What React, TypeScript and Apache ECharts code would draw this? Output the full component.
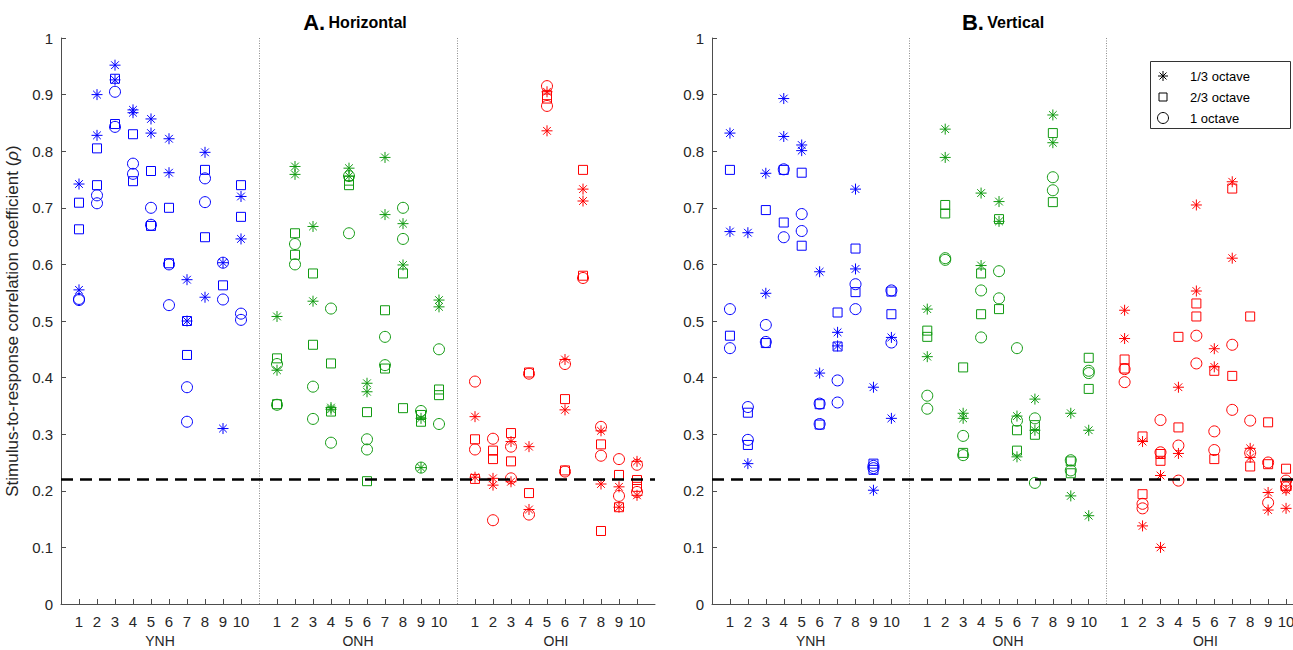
import React, { useEffect, useRef } from "react";
import * as echarts from "echarts";

// ---------- data (correlation values per subject, two per marker type) ----------
const GROUPS = ["YNH", "ONH", "OHI"];
const THRESH_H = 0.223;
const THRESH_V = 0.219;

// Panel A: Horizontal
const hYNHStar = [[0.742, 0.555], [0.900, 0.828], [0.952, 0.926], [0.873, 0.868], [0.857, 0.832], [0.822, 0.762], [0.573, 0.500], [0.798, 0.542], [0.603, 0.310], [0.720, 0.645]];
const hYNHSquare = [[0.709, 0.662], [0.805, 0.740], [0.928, 0.848], [0.830, 0.747], [0.765, 0.668], [0.700, 0.602], [0.500, 0.440], [0.767, 0.648], [0.563], [0.740, 0.684]];
const hYNHCircle = [[0.539, 0.537], [0.722, 0.708], [0.905, 0.843], [0.778, 0.760], [0.700, 0.670], [0.600, 0.528], [0.383, 0.322], [0.752, 0.710], [0.603, 0.538], [0.513, 0.502]];

const hONHStar = [[0.508, 0.413], [0.773, 0.759], [0.667, 0.535], [0.347, 0.344], [0.770, 0.756], [0.390, 0.375], [0.789, 0.688], [0.672, 0.599], [0.328, 0.241], [0.537, 0.525]];
const hONHSquare = [[0.434, 0.353], [0.655, 0.617], [0.584, 0.458], [0.425, 0.340], [0.748, 0.740], [0.339, 0.217], [0.519, 0.416], [0.584, 0.346], [0.334, 0.322], [0.379, 0.369]];
const hONHCircle = [[0.424, 0.352], [0.636, 0.600], [0.384, 0.327], [0.522, 0.285], [0.756, 0.655], [0.291, 0.273], [0.472, 0.422], [0.700, 0.645], [0.341, 0.241], [0.450, 0.318]];

const hOHIStar = [[0.331, 0.224], [0.222, 0.210], [0.287, 0.216], [0.278, 0.167], [0.905, 0.836], [0.432, 0.343], [0.733, 0.712], [0.306, 0.212], [0.207, 0.171], [0.252, 0.192]];
const hOHISquare = [[0.291, 0.221], [0.271, 0.256], [0.302, 0.252], [0.409, 0.196], [0.899, 0.893], [0.362, 0.236], [0.767, 0.580], [0.282, 0.129], [0.228, 0.171], [0.219, 0.207]];
const hOHICircle = [[0.393, 0.273], [0.292, 0.148], [0.278, 0.222], [0.407, 0.158], [0.915, 0.880], [0.424, 0.234], [0.576], [0.313, 0.262], [0.256, 0.191], [0.246, 0.198]];

// Panel B: Vertical
const vYNHStar = [[0.832, 0.658], [0.656, 0.248], [0.761, 0.549], [0.893, 0.826], [0.811, 0.801], [0.587, 0.408], [0.480, 0.456], [0.733, 0.592], [0.383, 0.201], [0.471, 0.328]];
const vYNHSquare = [[0.767, 0.474], [0.338, 0.281], [0.696, 0.461], [0.767, 0.674], [0.762, 0.633], [0.353, 0.317], [0.515, 0.455], [0.628, 0.551], [0.248, 0.237], [0.552, 0.512]];
const vYNHCircle = [[0.521, 0.452], [0.348, 0.290], [0.493, 0.463], [0.768, 0.648], [0.689, 0.659], [0.354, 0.318], [0.395, 0.356], [0.565, 0.521], [0.244, 0.240], [0.554, 0.462]];

const vONHStar = [[0.521, 0.437], [0.839, 0.789], [0.337, 0.328], [0.726, 0.598], [0.711, 0.676], [0.332, 0.260], [0.362, 0.307], [0.864, 0.815], [0.337, 0.191], [0.307, 0.156]];
const vONHSquare = [[0.483, 0.472], [0.705, 0.690], [0.418, 0.267], [0.584, 0.512], [0.680, 0.521], [0.307, 0.271], [0.316, 0.299], [0.832, 0.710], [0.252, 0.231], [0.435, 0.380]];
const vONHCircle = [[0.368, 0.345], [0.611, 0.608], [0.297, 0.263], [0.554, 0.471], [0.588, 0.540], [0.452, 0.324], [0.328, 0.214], [0.754, 0.731], [0.254, 0.236], [0.412, 0.408]];

const vOHIStar = [[0.519, 0.469], [0.287, 0.138], [0.227, 0.100], [0.383, 0.266], [0.705, 0.553], [0.451, 0.419], [0.746, 0.611], [0.275, 0.259], [0.197, 0.166], [0.201, 0.169]];
const vOHISquare = [[0.432, 0.416], [0.296, 0.194], [0.265, 0.253], [0.472, 0.312], [0.531, 0.508], [0.412, 0.256], [0.734, 0.403], [0.508, 0.243], [0.321, 0.247], [0.239, 0.209]];
const vOHICircle = [[0.415, 0.392], [0.177, 0.169], [0.325, 0.268], [0.280, 0.218], [0.474, 0.425], [0.305, 0.272], [0.458, 0.343], [0.324, 0.267], [0.250, 0.179], [0.218, 0.206]];

const X_TICKS = [1, 2, 3, 4, 5, 6, 7, 8, 9, 10, 12, 13, 14, 15, 16, 17, 18, 19, 20, 21, 23, 24, 25, 26, 27, 28, 29, 30, 31, 32];
const GROUP_CENTERS = [5.5, 16.5, 27.5];
const DIVIDERS = [11, 22];
const LEGEND_LABELS = ["1/3 octave", "2/3 octave", "1 octave"];

// ---------- styling ----------
const FONT = "'Liberation Sans', Arial, Helvetica, sans-serif";
const TEXT = "#262626";
const AXIS = "#4d4d4d";
const COLORS = ["#0000ff", "#109a10", "#ff0000"];
const STAR_PATH = "path://M5,0L5,10M0,5L10,5M1.5,1.5L8.5,8.5M1.5,8.5L8.5,1.5";

echarts.graphic.registerShape(
  "asteriskMark",
  echarts.graphic.extendPath("M0,-5L0,5M-5,0L5,0M-3.5,-3.5L3.5,3.5M-3.5,3.5L3.5,-3.5", {})
);

function points(subjects: number[][], offset: number) {
  const out: number[][] = [];
  subjects.forEach((vals, i) => vals.forEach((v) => out.push([offset + i + 1, v])));
  return out;
}

function scatter(data: number[][], kind: number, color: string, axis: number) {
  const symbol = kind === 0 ? STAR_PATH : kind === 1 ? "rect" : "circle";
  const size = kind === 0 ? 11 : kind === 1 ? 9 : 11;
  return {
    type: "scatter",
    xAxisIndex: axis * 2,
    yAxisIndex: axis,
    data,
    symbol,
    symbolSize: size,
    itemStyle: { color: "rgba(0,0,0,0)", borderColor: color, borderWidth: 1, opacity: 1 },
    emphasis: { disabled: true },
    silent: true,
    z: 3,
  };
}

function refLines(axis: number, thresh: number) {
  return {
    type: "line",
    xAxisIndex: axis * 2,
    yAxisIndex: axis,
    data: [],
    silent: true,
    z: 2,
    markLine: {
      silent: true,
      symbol: ["none", "none"],
      label: { show: false },
      animation: false,
      data: [
        ...DIVIDERS.map((d) => ({ xAxis: d, lineStyle: { color: "#8c8c8c", type: [1, 1.5], width: 1 } })),
        { yAxis: thresh, lineStyle: { color: "#000", type: [12, 7], width: 2.5 } },
      ],
    },
  };
}

function xAxes(grid: number) {
  return [
    {
      gridIndex: grid,
      type: "value",
      min: 0,
      max: 33,
      position: "bottom",
      axisLine: { show: true, onZero: false, lineStyle: { color: AXIS, width: 1 } },
      axisTick: { show: true, inside: true, length: 5, customValues: X_TICKS, lineStyle: { color: AXIS } },
      axisLabel: {
        customValues: X_TICKS,
        formatter: (v: number) => String(Math.round(v) % 11),
        color: TEXT,
        fontSize: 15,
        fontFamily: FONT,
        margin: 10,
      },
      splitLine: { show: false },
    },
    {
      gridIndex: grid,
      type: "value",
      min: 0,
      max: 33,
      position: "bottom",
      axisLine: { show: false },
      axisTick: { show: false },
      axisLabel: {
        customValues: GROUP_CENTERS,
        formatter: (v: number) => GROUPS[Math.floor(v / 11)],
        color: TEXT,
        fontSize: 14,
        fontFamily: FONT,
        margin: 30,
      },
      splitLine: { show: false },
    },
  ];
}

function yAxis(grid: number, withName: boolean) {
  return {
    gridIndex: grid,
    type: "value",
    min: 0,
    max: 1,
    interval: 0.1,
    axisLine: { show: true, onZero: false, lineStyle: { color: AXIS, width: 1 } },
    axisTick: { show: true, inside: true, length: 5, lineStyle: { color: AXIS } },
    axisLabel: {
      formatter: (v: number) => String(Number(v.toFixed(1))),
      color: TEXT,
      fontSize: 15,
      fontFamily: FONT,
      margin: 8,
    },
    splitLine: { show: false },
    ...(withName
      ? {
          name: "Stimulus-to-response correlation coefficient ({i|ρ})",
          nameLocation: "middle",
          nameGap: 40,
          nameRotate: 90,
          nameTextStyle: {
            color: TEXT,
            fontSize: 17,
            fontFamily: FONT,
            rich: { i: { fontStyle: "italic", fontSize: 17, fontFamily: FONT, color: TEXT } },
          },
        }
      : {}),
  };
}

export default function App() {
  const ref = useRef<HTMLDivElement>(null);

  useEffect(() => {
    if (!ref.current) return;
    const chart = echarts.init(ref.current, undefined, { renderer: "svg" });

    const panels = [
      [[hYNHStar, hYNHSquare, hYNHCircle], [hONHStar, hONHSquare, hONHCircle], [hOHIStar, hOHISquare, hOHICircle]],
      [[vYNHStar, vYNHSquare, vYNHCircle], [vONHStar, vONHSquare, vONHCircle], [vOHIStar, vOHISquare, vOHICircle]],
    ];

    const series: any[] = [refLines(0, THRESH_H), refLines(1, THRESH_V)];
    panels.forEach((groups, p) =>
      groups.forEach((kinds, g) =>
        kinds.forEach((subjects, k) => series.push(scatter(points(subjects, g * 11), k, COLORS[g], p)))
      )
    );

    const titleRich = {
      a: { fontSize: 22, fontWeight: "bold", fontFamily: FONT, color: "#000" },
      b: { fontSize: 16, fontWeight: "bold", fontFamily: FONT, color: "#000" },
    };

    const legendRows = [76, 97, 118];

    chart.setOption({
      animation: false,
      backgroundColor: "#ffffff",
      grid: [
        { left: 61, top: 38, width: 594, height: 566 },
        { left: 712, top: 38, width: 592, height: 566 },
      ],
      xAxis: [...xAxes(0), ...xAxes(1)],
      yAxis: [yAxis(0, true), yAxis(1, false)],
      series,
      graphic: [
        {
          type: "text",
          x: 355,
          y: 22,
          style: { text: "{a|A.} {b|Horizontal}", rich: titleRich, align: "center", verticalAlign: "middle" },
        },
        {
          type: "text",
          x: 1003,
          y: 22,
          style: { text: "{a|B.} {b|Vertical}", rich: titleRich, align: "center", verticalAlign: "middle" },
        },
        {
          type: "rect",
          shape: { x: 1150.5, y: 61.5, width: 140, height: 67 },
          style: { fill: "#fff", stroke: "#333", lineWidth: 1 },
          z: 10,
        },
        {
          type: "asteriskMark",
          x: 1163,
          y: legendRows[0],
          style: { stroke: "#000", fill: "none", lineWidth: 1 },
          z: 11,
        },
        {
          type: "rect",
          shape: { x: 1159, y: legendRows[1] - 4, width: 8, height: 8 },
          style: { stroke: "#000", fill: "none", lineWidth: 1 },
          z: 11,
        },
        {
          type: "circle",
          shape: { cx: 1163, cy: legendRows[2], r: 5.5 },
          style: { stroke: "#000", fill: "none", lineWidth: 1 },
          z: 11,
        },
        ...LEGEND_LABELS.map((t, i) => ({
          type: "text",
          x: 1190,
          y: legendRows[i],
          z: 11,
          style: { text: t, fontSize: 13, fontFamily: FONT, fill: "#000", verticalAlign: "middle" },
        })),
      ],
    });

    return () => chart.dispose();
  }, []);

  return (
    <div style={{ position: "absolute", left: 0, top: 0, width: 1293, height: 650, overflow: "hidden", background: "#fff" }}>
      <div ref={ref} style={{ position: "absolute", left: 0, top: 0, width: 1310, height: 650 }} />
    </div>
  );
}
